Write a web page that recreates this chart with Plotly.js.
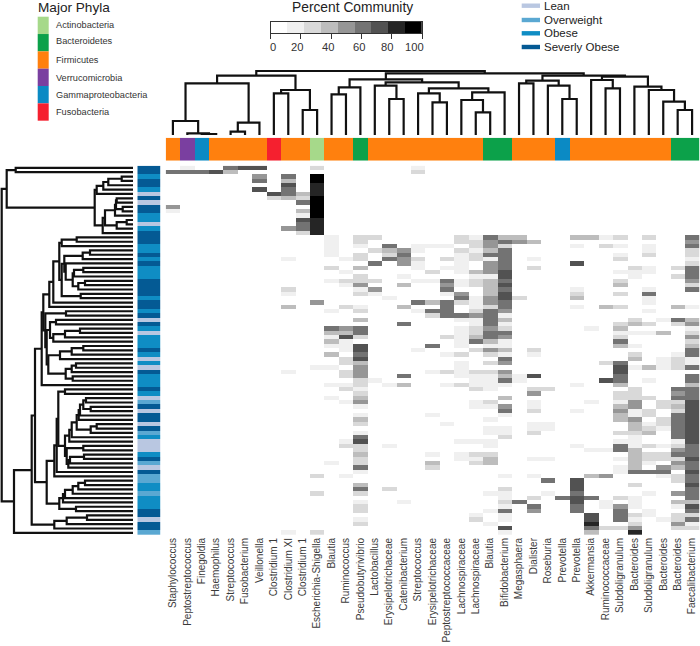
<!DOCTYPE html>
<html><head><meta charset="utf-8">
<script src="https://cdn.plot.ly/plotly-3.0.1.min.js"></script>
<style>html,body{margin:0;padding:0;background:#fff}#g{width:700px;height:646px}</style>
</head><body><div id="g"></div>
<script>
const genera = ["Staphylococcus","Peptostreptococcus","Finegoldia","Haemophilus","Streptococcus","Fusobacterium","Veillonella","Clostridium 1","Clostridium XI","Clostridium 1","Escherichia-Shigella","Blautia","Ruminococcus","Pseudobutyrivibrio","Lactobacillus","Erysipelotrichaceae","Catenibacterium","Streptococcus","Erysipelotrichaceae","Peptostreptococcaceae","Lachnospiraceae","Lachnospiraceae","Blautia","Bifidobacterium","Megasphaera","Dialister","Roseburia","Prevotella","Prevotella","Akkermansia","Ruminococcaceae","Subdoligranulum","Bacteroides","Subdoligranulum","Bacteroides","Bacteroides","Faecalibacterium"];
const phyla = ["Actinobacteria","Bacteroidetes","Firmicutes","Verrucomicrobia","Gammaproteobacteria","Fusobacteria"];
const phylaColors = ["#a6d98a","#0ca14a","#ff800e","#7a3fa0","#0b8ac4","#f5202f"];
const colPhylum = [2,3,4,2,2,2,2,5,2,2,0,2,2,1,2,2,2,2,2,2,2,2,1,1,2,2,2,4,2,2,2,2,2,2,2,1,1];
const bmiNames = ["Lean","Overweight","Obese","Severly Obese"];
const bmiColors = ["#b9c7e1","#5aa8d2","#0f8dc4","#045a94"];
const rowBmi = "SSOSSOLSLSSOOLOSSSOOSOSOOOSSSSOSSOSLSOLOOOSOLOLSOOOSOLWSLSSLSWOLLLOSWLSWWOOWOOOSSLSSW".split("");
const bmiCodes = ["L","W","O","S"];
const greys = ["#ffffff","#f0f0f0","#d9d9d9","#bdbdbd","#969696","#737373","#525252","#252525","#000000"];
const scaleTicks = [0,20,40,60,80,100];

// percent community per genus column: {row: percent}
const c0={1:61,9:50,10:17};
const c1={0:17,1:61};
const c2={1:61};
const c3={1:72};
const c4={0:61,1:39};
const c5={0:72};
const c6={0:72,2:50,3:61,5:72};
const c7={6:72,7:28};
const c8={2:61,3:39,4:72,5:61,6:61,7:39,14:50,21:17,28:28,29:17,32:39,47:17,84:17};
const c9={6:39,7:28,8:61,10:39,11:17,12:72,13:61,14:61,15:28};
const c10={0:28,2:94,3:94,4:83,5:83,6:83,7:94,8:94,9:94,10:94,11:94,12:83,13:83,14:83,15:83,31:50,46:17,71:28,75:28,84:28};
const c11={16:17,17:17,18:17,19:17,20:17,23:28,26:17,33:17,37:61,38:39,39:17,40:39,41:17,43:39,46:17,50:17,53:17,68:17};
const c12={21:17,24:17,26:28,27:17,32:28,37:50,38:39,39:72,40:17,41:17,42:17,44:28,45:28,47:28,48:28,50:17,51:28,54:17,63:17,64:28,71:17};
const c13={16:28,17:28,18:17,20:28,21:28,23:39,25:28,26:28,27:50,28:17,29:28,32:17,33:28,35:39,37:61,38:61,39:28,41:72,42:72,43:61,44:72,45:39,46:50,47:50,48:50,49:28,50:28,51:17,52:28,53:39,54:50,55:17,57:17,58:39,59:28,61:17,62:61,63:72,64:28,65:28,66:39,67:28,68:28,69:61,70:17,73:39,74:61,75:28,77:17,78:28,79:28,81:17,82:28};
const c14={16:28,19:28,22:61,26:28,28:50,29:17,49:17};
const c15={18:61,19:39,20:28,21:61,30:17,50:17,64:17,74:28};
const c16={19:50,20:61,21:50,22:50,25:17,27:39,32:39,36:61,48:61,50:39,77:17};
const c17={0:17,1:28,18:17,19:17,21:28,22:17,23:17,26:17,31:61,33:17,42:17};
const c18={18:17,24:28,26:17,31:39,33:61,34:28,41:61,47:17,57:17,66:17,68:39,69:28};
const c19={18:17,21:28,23:17,26:61,27:50,28:61,29:17,31:61,32:61,33:61,34:61,39:28,43:17,47:28,50:17,59:17};
const c20={16:28,17:28,19:28,20:17,21:17,22:17,23:17,24:17,26:17,27:17,29:50,30:61,31:28,34:61,35:17,37:17,38:17,39:17,40:17,41:17,43:28,45:17,46:17,47:17,48:17,50:28,63:17,66:17,67:17};
const c21={16:17,17:28,18:28,19:17,20:28,21:28,24:39,25:17,26:28,27:28,30:17,31:17,32:17,33:28,34:50,35:17,36:17,37:28,38:28,39:39,40:61,42:28,47:28,48:17,49:17,50:17,51:28,54:17,55:17,63:17,66:28,67:17,68:28,80:17,81:28};
const c22={16:61,17:50,18:50,19:39,20:61,21:17,22:50,23:50,24:50,25:17,26:39,27:39,28:39,29:39,30:50,31:50,32:28,33:61,34:61,35:61,36:61,37:50,38:61,39:61,40:39,41:17,42:50,43:28,45:28,47:28,48:17,49:17,50:17,51:17,54:28,55:17,58:17,60:17,61:17,63:17,64:17,66:28,67:39,68:39,75:17,79:17,82:17};
const c23={16:39,17:61,18:28,19:61,20:61,21:61,22:61,23:61,24:72,25:72,26:61,27:72,28:61,29:72,30:72,31:61,32:61,33:50,34:17,35:39,36:17,37:28,38:61,39:50,40:17,41:17,42:39,43:17,44:61,45:50,47:50,48:39,49:61,50:17,53:39,55:50,56:61,57:17,60:17,61:17,62:28,71:17,74:28,75:17,76:17,77:28,78:17,79:61,80:17,81:17,83:72,84:17};
const c24={16:39,17:50,30:28,48:17,49:17,77:61};
const c25={17:39,21:17,23:28,42:28,43:17,48:72,51:28,52:50,54:17,55:17,56:28,59:17,60:17,61:28,67:17,71:17,76:28,78:61,79:50};
const c26={51:28,59:17,60:17,67:17,72:61,75:17};
const c27={76:61};
const c28={16:39,18:17,22:72,28:17,29:28,30:39,32:17,50:17,56:17,64:17,72:72,73:72,74:72,75:61,76:72,77:72,78:61,79:61};
const c29={16:39,37:17,54:17,65:17,71:39,76:61,80:72,81:72,82:83,83:61,84:39};
const c30={16:17,18:28,32:39,45:28,49:72,65:17,71:50,77:17,78:17,83:28};
const c31={16:28,18:17,20:17,21:28,24:17,26:28,27:39,29:28,32:28,36:28,37:39,38:17,39:28,40:61,41:39,45:61,46:72,47:72,48:61,49:61,50:39,52:28,53:28,54:17,55:39,56:50,57:39,58:39,61:28,63:17,64:61,65:61,67:17,69:17,70:17,76:28,78:50,79:61,80:61,81:61,83:28};
const c32={23:28,24:17,25:17,35:28,36:39,38:17,41:17,43:28,44:39,46:17,51:28,52:28,53:28,54:50,55:50,56:17,57:17,58:50,59:39,60:39,61:28,62:17,63:17,64:17,65:39,66:39,67:39,68:39,69:39,70:61,73:28,76:17,77:17,78:17,80:28,81:17,82:28,83:50,84:83};
const c33={16:28,18:17,19:17,20:28,23:17,24:17,28:17,29:61,30:17,31:17,33:17,36:28,38:17,46:39,49:17,53:28,56:28,57:28,59:17,60:28,61:39,64:28,66:28,67:28,68:17,70:61,75:17,79:17,80:17};
const c34={35:17,38:39,44:17,45:17,46:17,54:28,55:28,58:28,59:28,60:17,64:17,66:28,67:28,69:50,70:61,71:17,81:17};
const c35={23:28,25:28,32:39,35:61,36:28,43:17,44:28,45:28,46:28,51:61,52:50,53:61,54:28,55:39,56:28,57:61,58:61,59:61,60:61,61:61,62:61,63:17,64:28,65:50,66:61,67:28,68:50,69:39,71:28,72:28,75:50,77:39,78:17,80:28,81:28,82:50,83:28};
const c36={16:61,17:50,18:61,19:28,20:28,21:17,22:28,23:61,24:61,25:61,26:50,27:28,28:61,32:17,35:39,36:50,37:17,38:28,39:50,40:28,41:39,42:61,43:61,44:17,45:17,46:61,48:61,49:61,50:39,51:61,52:61,53:61,54:72,55:72,56:72,57:72,58:72,59:72,60:72,61:72,62:72,63:72,64:61,65:61,66:61,67:72,68:61,69:61,70:72,71:61,72:61,73:72,74:61,75:61,76:61,77:39,78:72,79:61,80:28,81:61,82:17,83:28};
const columns=[c0,c1,c2,c3,c4,c5,c6,c7,c8,c9,c10,c11,c12,c13,c14,c15,c16,c17,c18,c19,c20,c21,c22,c23,c24,c25,c26,c27,c28,c29,c30,c31,c32,c33,c34,c35,c36];
const nRows = 85;

// clustering merges: numbers are leaves, 'mN' earlier merges, last value the height
const colMerges = [
[2,3,1],[1,'m1',1.7],[0,'m2',14],[4,5,3.3],['m4',6,12.3],['m3','m5',51.7],[7,8,41.7],[9,10,25],['m7','m8',45],['m6','m9',59.3],
[11,12,40.7],['m11',13,47.7],[15,16,36],[14,'m13',49.3],[18,19,32.7],[17,'m15',41.7],[21,22,22.7],[20,'m17',35],['m18',23,42.7],['m16','m19',46.7],
['m14','m20',52.7],['m12','m21',55.7],[24,25,51.7],[27,28,36],[26,'m24',49.3],['m23','m25',54.3],[30,31,46.7],[29,'m27',55],[35,36,25],[34,'m29',33.3],
[33,'m30',45],[32,'m31',48.3],['m28','m32',58.3],['m26','m33',59.3],['m22','m34',61.7],['m10','m35',64]];
const rowMerges = [
[2,3,11.3],['m1',4,24.7],['m2',5,29.7],['m3',6,36.3],[7,8,16.3],[9,10,10.3],['m5','m6',17],['m7',11,18],[12,13,6.3],['m9',14,16.3],
['m8','m10',28],['m11',15,30.3],['m4','m12',38.3],[0,1,117.3],['m14','m13',126.3],[16,17,56.3],['m16',18,71.3],[19,20,43],['m18',21,50.3],[23,24,49.7],
['m20',25,59],[26,27,48],['m22',28,54.7],['m21','m23',60.3],[22,'m24',67.3],['m19','m25',68.7],[29,30,52.3],['m26','m27',71.3],['m17','m28',73.7],['m29',31,79.7],
['m30',32,83.7],[33,34,67],[35,36,77],[37,38,53],['m34',39,68],['m35',40,79.7],['m33','m36',83],[41,42,49.7],['m38',43,61.3],['m39',44,73],
[45,46,57],['m41',47,61.3],[48,49,60.3],['m42','m43',67.3],['m40','m44',84.7],['m37','m45',86.3],['m32','m46',87.7],['m31','m47',89.7],['m48',50,91.3],[51,52,68],
[53,54,47],[55,56,42.3],['m51','m52',49.7],['m53',57,53],['m54',58,54.3],[59,60,36.3],['m56',61,42.3],['m55','m57',56.3],['m58',62,61.3],['m59',63,63.7],
[64,65,49.7],[66,67,49],['m62',68,63],['m63',69,64.7],['m61','m64',66.3],['m60','m65',68],['m50','m66',74.7],['m67',70,76.3],['m68',71,78.7],[72,73,48],
['m70',74,54.7],['m71',75,60.3],['m72',76,68],['m73',77,70],[78,79,57],['m74','m75',73.7],['m69','m76',86.3],['m49','m77',98],[80,81,46],['m79',82,66.3],
['m80',83,78.7],['m78','m81',101.3],['m82',84,119],['m15','m83',131.3]];

function linkPath(merges){
  const pos={},ht={},a=[],h=[];
  const P=k=>typeof k==='number'?k:pos[k], H=k=>typeof k==='number'?0:ht[k];
  merges.forEach((m,i)=>{
    const [l,r,v]=m, id='m'+(i+1);
    a.push(P(l),P(l),P(r),P(r),null); h.push(H(l),v,v,H(r),null);
    pos[id]=(P(l)+P(r))/2; ht[id]=v;
  });
  return {pos:a,height:h};
}
function stepped(cols){
  const n=cols.length,s=[];
  cols.forEach((c,i)=>{s.push([i/n,c],[(i+1)/n,c]);});
  return s;
}
const W=700,H=646;
const dx=(a,b)=>[a/W,b/W], dy=(top,bot)=>[1-bot/H,1-top/H];
const hid={visible:false,showgrid:false,zeroline:false,fixedrange:true};

const z=[];
for(let r=0;r<nRows;r++) z.push(columns.map(c=>c[r]||0));
const colIdx=genera.map((_,i)=>i), rowIdx=z.map((_,i)=>i);
const topLinks=linkPath(colMerges), leftLinks=linkPath(rowMerges);
const dendroLine={color:'#111111',width:2.2};

const traces=[
 {type:'heatmap',x:colIdx,y:rowIdx,z:z,zmin:0,zmax:100,colorscale:stepped(greys),showscale:false,xaxis:'x',yaxis:'y',hoverinfo:'skip'},
 {type:'heatmap',x:[0],y:rowIdx,z:rowBmi.map(b=>[bmiCodes.indexOf(b)+.5]),zmin:0,zmax:4,colorscale:stepped(bmiColors),showscale:false,xaxis:'x2',yaxis:'y',hoverinfo:'skip'},
 {type:'heatmap',x:colIdx,y:[0],z:[colPhylum.map(p=>p+.5)],zmin:0,zmax:6,colorscale:stepped(phylaColors),showscale:false,xaxis:'x',yaxis:'y2',hoverinfo:'skip'},
 {type:'scatter',mode:'lines',x:topLinks.pos,y:topLinks.height,line:dendroLine,xaxis:'x',yaxis:'y3',hoverinfo:'skip',connectgaps:false},
 {type:'scatter',mode:'lines',x:leftLinks.height,y:leftLinks.pos,line:dendroLine,xaxis:'x3',yaxis:'y',hoverinfo:'skip',connectgaps:false},
 {type:'heatmap',x0:100/18,dx:100/9,y:[0],z:[greys.map((_,i)=>(i+.5)*100/9)],zmin:0,zmax:100,colorscale:stepped(greys),showscale:false,xaxis:'x4',yaxis:'y4',hoverinfo:'skip'}
];

const ann=(t,x,y,size,anchor,color)=>({text:t,xref:'paper',yref:'paper',x:x/W,y:1-y/H,xanchor:anchor||'left',yanchor:'middle',showarrow:false,font:{size:size,color:color||'#222',family:'Liberation Sans, Arial, sans-serif'}});
const annotations=[ann('Major Phyla',36,7,13.6),ann('Percent Community',352,7,13.8,'center')];
const phylaLabelY=[24.7,41,60,78,94.7,112];
phyla.forEach((p,i)=>annotations.push(ann(p,53.5,phylaLabelY[i],9.2,'left','#333')));
const bmiLabelY=[5.7,20,33.3,47];
bmiNames.forEach((p,i)=>annotations.push(ann(p,542,bmiLabelY[i],11.5,'left','#222')));
const scaleLabelX=[272.5,296.5,328,358.5,386.5,414.5];
scaleTicks.forEach((t,i)=>annotations.push(ann(String(t),scaleLabelX[i],47,11.2,'center','#333')));

const shapes=[];
phyla.forEach((p,i)=>shapes.push({type:'rect',xref:'paper',yref:'paper',x0:37.7/W,x1:48.7/W,y0:1-(16.7+i*17.33)/H,y1:1-(16.7+(i+1)*17.33)/H,fillcolor:phylaColors[i],line:{width:0},layer:'above'}));
bmiNames.forEach((p,i)=>shapes.push({type:'rect',xref:'paper',yref:'paper',x0:521.7/W,x1:540/W,y0:1-(bmiLabelY[i]-2.2)/H,y1:1-(bmiLabelY[i]+2.2)/H,fillcolor:bmiColors[i],line:{width:0},layer:'above'}));

const layout={
 width:W,height:H,margin:{l:0,r:0,t:0,b:0},paper_bgcolor:'#fff',plot_bgcolor:'#fff',showlegend:false,
 xaxis:{domain:dx(165.7,699.3),range:[-.5,36.5],tickmode:'array',tickvals:colIdx,ticktext:genera,tickangle:-90,ticks:'',ticklen:0,ticklabelstandoff:0,showgrid:false,zeroline:false,showline:false,fixedrange:true,anchor:'y',automargin:false,tickfont:{size:10,color:'#3a3a3a',family:'Liberation Sans, Arial, sans-serif'}},
 yaxis:Object.assign({},hid,{domain:dy(165.7,535),range:[84.5,-.5]}),
 xaxis2:Object.assign({},hid,{domain:dx(137.3,160.7),range:[-.5,.5],anchor:'y'}),
 yaxis2:Object.assign({},hid,{domain:dy(137.7,160.7),range:[-.5,.5],anchor:'x'}),
 yaxis3:Object.assign({},hid,{domain:dy(50,135),range:[0,85],anchor:'x'}),
 xaxis3:Object.assign({},hid,{domain:dx(0,133),range:[133,0],anchor:'y'}),
 xaxis4:{domain:dx(270.7,422),range:[0,100],anchor:'y4',tickmode:'array',tickvals:scaleTicks,ticks:'outside',ticklen:5,tickcolor:'#333',tickwidth:1,showticklabels:false,showline:true,linecolor:'#333',linewidth:1,mirror:true,showgrid:false,zeroline:false,fixedrange:true},
 yaxis4:{domain:dy(22,33),range:[-.5,.5],anchor:'x4',showticklabels:false,ticks:'',showline:true,linecolor:'#333',linewidth:1,mirror:true,showgrid:false,zeroline:false,fixedrange:true},
 annotations:annotations,shapes:shapes
};
Plotly.newPlot('g',traces,layout,{displayModeBar:false,staticPlot:true});
</script></body></html>
